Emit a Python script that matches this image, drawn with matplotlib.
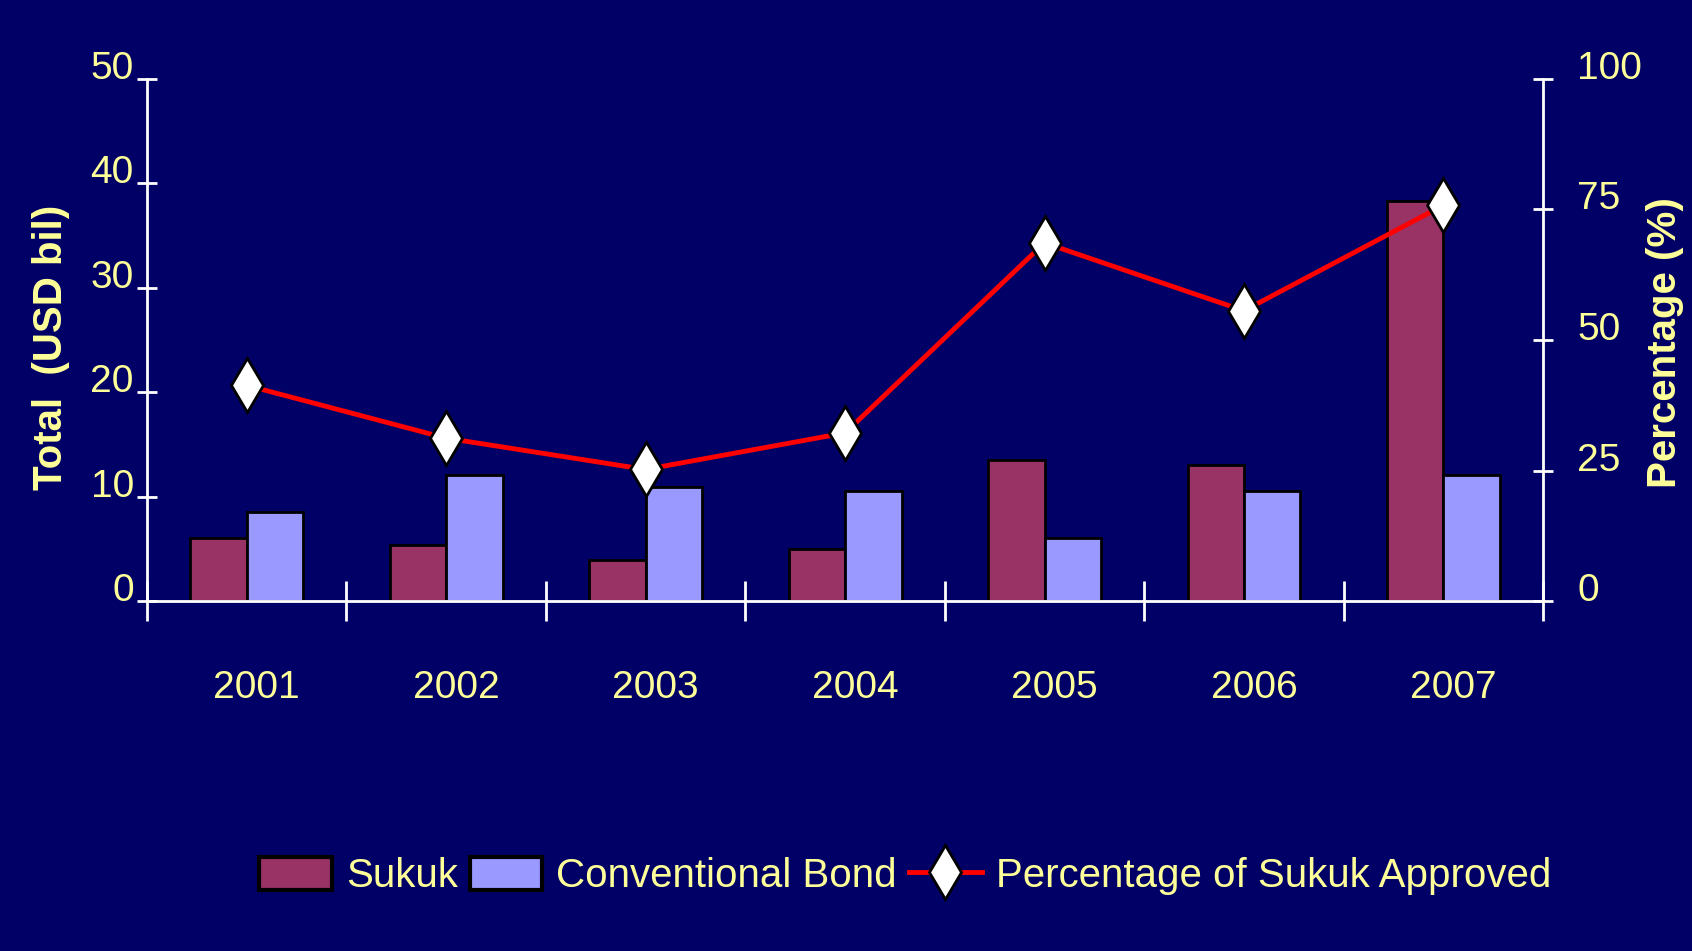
import matplotlib.pyplot as plt
import numpy as np

years = ['2001', '2002', '2003', '2004', '2005', '2006', '2007']
sukuk = [6.0, 5.4, 3.9, 5.0, 13.5, 13.0, 38.3]
conventional = [8.5, 12.1, 10.95, 10.5, 6.0, 10.5, 12.1]
pct_approved = [41.3, 31.2, 25.2, 32.2, 68.6, 55.6, 75.8]

bg = '#000066'
txt = '#FFFF99'
plt.rcParams['font.family'] = ['Liberation Sans', 'DejaVu Sans']

fig = plt.figure(figsize=(16.92, 9.51), dpi=100, facecolor=bg)
ax = fig.add_axes([0.0869, 0.368, 0.912 - 0.0869, 0.917 - 0.368])
ax.set_facecolor(bg)
ax2 = ax.twinx()

x = np.arange(len(years))
w = 0.283
ax.bar(x - w / 2, sukuk, w, color='#993366', edgecolor='black', linewidth=2,
       label='Sukuk', zorder=2)
ax.bar(x + w / 2, conventional, w, color='#9999FF', edgecolor='black', linewidth=2,
       label='Conventional Bond', zorder=2)
ax2.plot(x, pct_approved, color='#FF0000', linewidth=3.5, marker='d', markersize=28,
         markerfacecolor='white', markeredgecolor='black', markeredgewidth=2,
         label='Percentage of Sukuk Approved', zorder=3)

ax.set_xlim(-0.5, 6.5)
ax.set_ylim(0, 50)
ax2.set_ylim(0, 100)

for a in (ax, ax2):
    for s in a.spines.values():
        s.set_visible(False)
ax.spines['left'].set_visible(True)
ax.spines['left'].set_color('white')
ax.spines['left'].set_linewidth(2)
ax.spines['bottom'].set_visible(True)
ax.spines['bottom'].set_color('white')
ax.spines['bottom'].set_linewidth(2)
ax2.spines['right'].set_visible(True)
ax2.spines['right'].set_color('white')
ax2.spines['right'].set_linewidth(2)

# year labels sit a little right of the group centres in the original
ax.set_xticks(x + 0.05)
ax.set_xticklabels(years)
ax.set_xticks(np.arange(-0.5, 7, 1), minor=True)
ax.tick_params(axis='x', which='major', length=0, pad=50, labelsize=28, labelcolor=txt)
ax.tick_params(axis='x', which='minor', length=29, width=2, direction='inout', color='white')

ax.set_yticks([0, 10, 20, 30, 40, 50])
ax.tick_params(axis='y', length=15, width=2, direction='inout', color='white',
               labelsize=28, labelcolor=txt, pad=2)
ax2.set_yticks([0, 25, 50, 75, 100])
ax2.tick_params(axis='y', length=15, width=2, direction='inout', color='white',
                labelsize=28, labelcolor=txt, pad=17)
for lab in ax.get_yticklabels() + ax2.get_yticklabels():
    lab.set_verticalalignment('baseline')

fig.text(51 / 1692, 1 - 347 / 951, 'Total  (USD bil)', rotation=90, color=txt,
         fontsize=29, fontweight='bold', ha='center', va='center')
fig.text(1665 / 1692, 1 - 343 / 951, 'Percentage (%)', rotation=90, color=txt,
         fontsize=29, fontweight='bold', ha='center', va='center')

h1, l1 = ax.get_legend_handles_labels()
h2, l2 = ax2.get_legend_handles_labels()
leg = fig.legend(h1 + h2, l1 + l2, loc='center', bbox_to_anchor=(0.535, 0.079), ncol=3,
                 frameon=False, fontsize=29, handlelength=1.8, handleheight=0.9,
                 handletextpad=0.35, columnspacing=0.3, borderpad=0)
for t in leg.get_texts():
    t.set_color(txt)
for p in leg.get_patches():
    p.set_linewidth(3)

fig.savefig('out.png', dpi=100, facecolor=bg)
